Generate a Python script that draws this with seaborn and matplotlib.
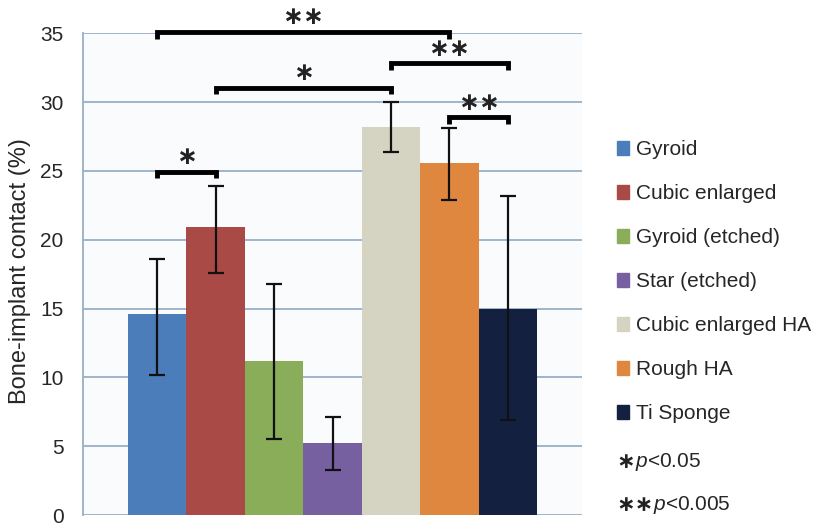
import numpy as np
import pandas as pd
import seaborn as sns
import matplotlib.pyplot as plt

#%% Data

materials = ['Gyroid', 'Cubic enlarged', 'Gyroid (etched)', 'Star (etched)',
             'Cubic enlarged HA', 'Rough HA', 'Ti Sponge']
bic_mean = [14.6, 20.9, 11.2, 5.2, 28.2, 25.6, 15.0]
err_lower = [10.2, 17.6, 5.5, 3.3, 26.4, 22.9, 6.9]
err_upper = [18.6, 23.9, 16.8, 7.1, 30.0, 28.1, 23.2]
colors = ['#4a7dba', '#a94a46', '#8aad5a', '#7760a0', '#d5d4c2', '#e0873f', '#132040']

# (first bar, second bar, bracket height, label)
brackets = [(0, 5, 35.1, '∗∗'), (4, 6, 32.8, '∗∗'), (1, 4, 31.05, '∗'),
            (5, 6, 28.9, '∗∗'), (0, 1, 24.95, '∗')]
pvalue_labels = [('∗', '$p$<0.05'), ('∗∗', '$p$<0.005')]

df = pd.DataFrame({'grp': ['all'] * len(materials), 'material': materials, 'bic': bic_mean})

#%% Plot

sns.set_style('white')
plt.rcParams['font.family'] = ['Liberation Sans', 'DejaVu Sans']
plt.rcParams['mathtext.fontset'] = 'custom'
plt.rcParams['mathtext.it'] = 'Liberation Sans:italic'
plt.rcParams['mathtext.rm'] = 'Liberation Sans'

grid_col = '#98afc6'
fig = plt.figure(figsize=(8.18, 5.26), dpi=100)
ax = fig.add_axes([0.1015, 0.0209, 0.610, 0.916])
ax.set_facecolor('#fafbfd')

sns.barplot(data=df, x='grp', y='bic', hue='material', hue_order=materials,
            palette=colors, width=0.82, errorbar=None, saturation=1, linewidth=0,
            ax=ax, legend=False)

bars = ax.patches[:len(materials)]
centers = [b.get_x() + b.get_width() / 2 for b in bars]
yerr = [np.array(bic_mean) - np.array(err_lower), np.array(err_upper) - np.array(bic_mean)]
ax.errorbar(centers, bic_mean, yerr=yerr, fmt='none', ecolor='#111111',
            elinewidth=1.6, capsize=6, capthick=1.6, zorder=5)

ax.set_ylim(0, 35)
ax.set_xlim(-0.5, 0.5)
ax.set_yticks(range(0, 36, 5))
ax.set_xticks([])
ax.set_xlabel('')
ax.set_ylabel('Bone-implant contact (%)', fontsize=17)
ax.yaxis.set_label_coords(-0.104, 0.506)
ax.tick_params(axis='y', labelsize=15, length=7, width=1.2, color=grid_col, direction='out', pad=7)
ax.yaxis.grid(True, color=grid_col, lw=1.3)
ax.set_axisbelow(True)
for side in ['top', 'right', 'bottom']:
    ax.spines[side].set_visible(False)
ax.spines['left'].set_color(grid_col)
ax.spines['left'].set_linewidth(1.3)

# significance brackets
tick = 0.5
for i, j, y, lab in brackets:
    x1, x2 = centers[i], centers[j]
    ax.plot([x1, x1, x2, x2], [y - tick, y, y, y - tick], color='black', lw=3.5,
            solid_capstyle='butt', solid_joinstyle='miter', clip_on=False, zorder=6)
    ax.text((x1 + x2) / 2, y + 1.05, lab, ha='center', va='center', fontsize=18,
            fontweight='bold', family='DejaVu Sans', color='#222222', clip_on=False)

# legend
handles = [plt.Rectangle((0, 0), 1, 1, color=c) for c in colors]
fig.legend(handles, materials, loc='upper left', bbox_to_anchor=(0.754, 0.733),
           frameon=False, fontsize=15, handlelength=0.6, handleheight=0.6,
           handletextpad=0.3, labelspacing=1.2, borderpad=0, borderaxespad=0)

for k, (star, txt) in enumerate(pvalue_labels):
    ypos = 1 - (462 + k * 43) / 526
    t = fig.text(0.753, ypos, star, fontsize=16, fontweight='bold', family='DejaVu Sans',
                 color='#222222', va='center', ha='left')
    fig.canvas.draw()
    bb = t.get_window_extent()
    fig.text(bb.x1 / fig.bbox.width, ypos, txt, fontsize=15, va='center', ha='left')

fig.savefig('out.png', dpi=100)
